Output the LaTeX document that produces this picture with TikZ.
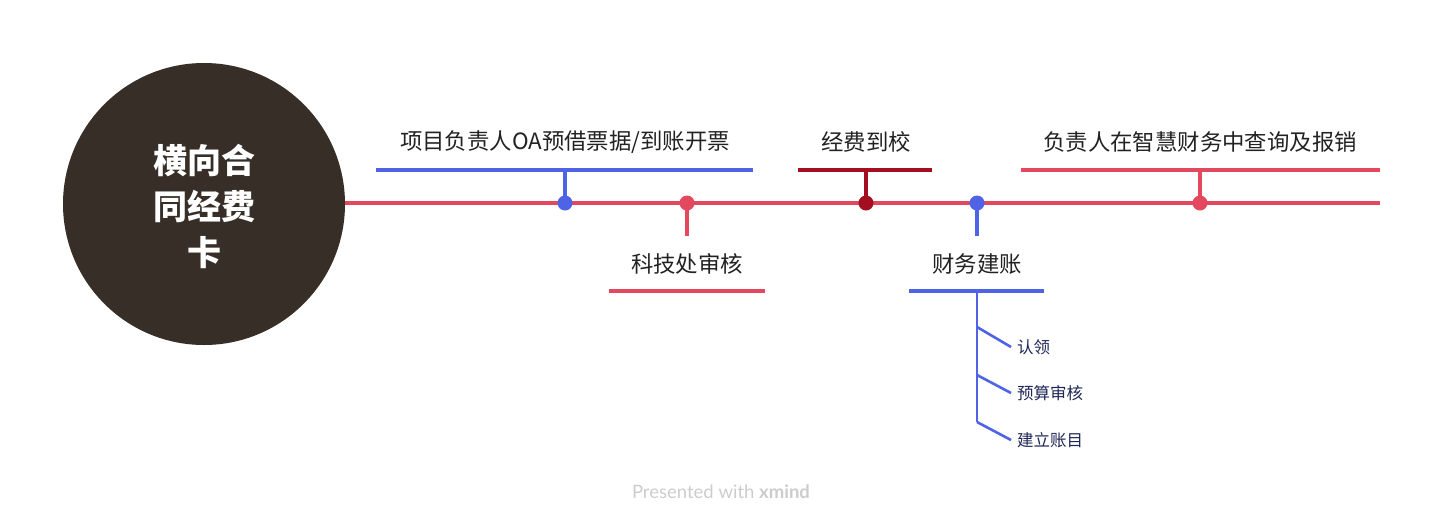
\documentclass[tikz,border=0pt]{standalone}
\usepackage{fontspec}
\newfontfamily\cjk{Noto Sans CJK SC}
\newfontfamily\foot{Lato}
\definecolor{cblue}{HTML}{4E63E6}
\definecolor{cred}{HTML}{E4485E}
\definecolor{cdark}{HTML}{A30F20}
\definecolor{cbrown}{HTML}{372F27}
\definecolor{ctext}{HTML}{222222}
\definecolor{csub}{HTML}{1E2756}
\begin{document}
\begin{tikzpicture}[x=1pt,y=-1pt,
  bar/.style={line width=3.2pt},
  dotm/.style={circle,inner sep=0pt,minimum size=15pt},
  topic/.style={font=\cjk\fontsize{22.4}{26}\selectfont,text=ctext,inner sep=0pt},
  subt/.style={font=\cjk\fontsize{16.5}{20}\selectfont,text=csub,inner sep=0pt,anchor=west}]
\useasboundingbox (0,0) rectangle (1443,523);
% central topic
\node[circle,fill=cbrown,minimum size=282pt,inner sep=0pt] (root) at (204,204) {};
\node[font=\cjk\bfseries\fontsize{34}{46}\selectfont,text=white,align=center] (roottxt) at (204,206) {横向合\\同经费\\卡};
% main line
\coordinate (mainstart) at (345,203);
\coordinate (mainend) at (1380,203);
\draw[bar,cred] (mainstart) -- (mainend);
% topic 1
\coordinate (b1l) at (376,170); \coordinate (b1r) at (753,170); \coordinate (b1m) at (565,170);
\node[dotm,fill=cblue] (d1) at (565,203) {};
\draw[bar,cblue] (b1l) -- (b1r);
\draw[bar,cblue] (b1m) -- (d1.center);
\node[topic] (t1) at (565,142) {项目负责人OA预借票据/到账开票};
% topic 2
\node[dotm,fill=cred] (d2) at (687,203) {};
\coordinate (b2m) at (687,236); \coordinate (b2l) at (609,291); \coordinate (b2r) at (765,291);
\draw[bar,cred] (d2.center) -- (b2m);
\draw[bar,cred] (b2l) -- (b2r);
\node[topic] (t2) at (687,264) {科技处审核};
% topic 3
\coordinate (b3l) at (798,170); \coordinate (b3r) at (932,170); \coordinate (b3m) at (866,170);
\node[dotm,fill=cdark] (d3) at (866,203) {};
\draw[bar,cdark] (b3l) -- (b3r);
\draw[bar,cdark] (b3m) -- (d3.center);
\node[topic] (t3) at (866,142) {经费到校};
% topic 4
\node[dotm,fill=cblue] (d4) at (977,203) {};
\coordinate (b4m) at (977,236); \coordinate (b4l) at (909,291); \coordinate (b4r) at (1044,291);
\coordinate (b4c) at (977,291); \coordinate (b4e) at (977,422);
\draw[bar,cblue] (d4.center) -- (b4m);
\draw[bar,cblue] (b4l) -- (b4r);
\node[topic] (t4) at (977,264) {财务建账};
\draw[line width=2.6pt,cblue] (b4c) -- (b4e);
\coordinate (s1a) at (977,327); \coordinate (s2a) at (977,375); \coordinate (s3a) at (977,422);
\node[subt] (s1) at (1017,347) {认领};
\node[subt] (s2) at (1017,393) {预算审核};
\node[subt] (s3) at (1017,440) {建立账目};
\draw[line width=2.6pt,cblue] (s1a) -- ([xshift=-6pt]s1.west);
\draw[line width=2.6pt,cblue] (s2a) -- ([xshift=-6pt]s2.west);
\draw[line width=2.6pt,cblue,line join=round] (s3a) -- ([xshift=-6pt]s3.west);
% topic 5
\coordinate (b5l) at (1021,170); \coordinate (b5r) at (1380,170); \coordinate (b5m) at (1200,170);
\node[dotm,fill=cred] (d5) at (1200,203) {};
\draw[bar,cred] (b5l) -- (b5r);
\draw[bar,cred] (b5m) -- (d5.center);
\node[topic] (t5) at (1200,142) {负责人在智慧财务中查询及报销};
% footer
\node[font=\foot\fontsize{18.5}{20}\selectfont,text=black!20,inner sep=0pt] (footer) at (721,492) {Presented with \textbf{xmind}};
\end{tikzpicture}
\end{document}
